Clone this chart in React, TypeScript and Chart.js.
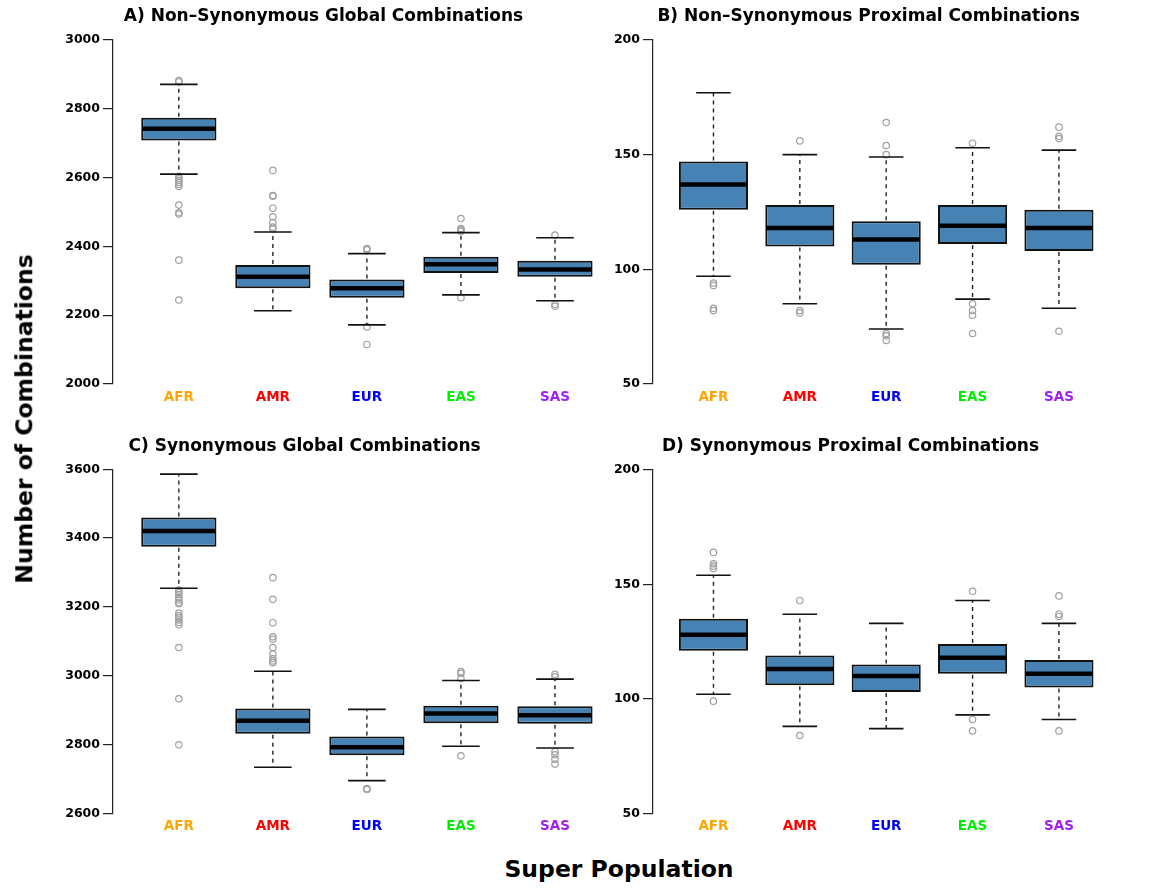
import React, { useEffect, useRef } from "react";
import { Chart, registerables } from "chart.js";

Chart.register(...registerables);

const FONT = '"DejaVu Sans", "Liberation Sans", sans-serif';

const categories = ["AFR", "AMR", "EUR", "EAS", "SAS"];
const categoryColors = ["#FFA500", "#FF0000", "#0000FF", "#00EE00", "#A020F0"];

// A) Non-Synonymous Global Combinations
const aTitle = "A) Non\u2013Synonymous Global Combinations";
const aTicks = [2000, 2200, 2400, 2600, 2800, 3000];
const aLower = [2610, 2213, 2172, 2259, 2242];
const aQ1 = [2708, 2278, 2251, 2323, 2312];
const aMedian = [2742, 2312, 2278, 2348, 2333];
const aQ3 = [2774, 2346, 2304, 2370, 2358];
const aUpper = [2871, 2442, 2379, 2440, 2425];
const aOutliers = [
  [2882, 2878, 2604, 2598, 2592, 2586, 2580, 2574, 2520, 2498, 2494, 2360, 2244],
  [2621, 2548, 2546, 2511, 2486, 2469, 2456, 2451],
  [2394, 2390, 2166, 2115],
  [2481, 2452, 2448, 2444, 2251],
  [2433, 2232, 2226],
];

// B) Non-Synonymous Proximal Combinations
const bTitle = "B) Non\u2013Synonymous Proximal Combinations";
const bTicks = [50, 100, 150, 200];
const bLower = [97, 85, 74, 87, 83];
const bQ1 = [126, 110, 102, 111, 108];
const bMedian = [137, 118, 113, 119, 118];
const bQ3 = [147, 128, 121, 128, 126];
const bUpper = [177, 150, 149, 153, 152];
const bOutliers = [
  [94, 93, 83, 82],
  [156, 82, 81],
  [164, 154, 150, 72, 71, 69],
  [155, 85, 82, 80, 72],
  [162, 158, 157, 73],
];

// C) Synonymous Global Combinations
const cTitle = "C) Synonymous Global Combinations";
const cTicks = [2600, 2800, 3000, 3200, 3400, 3600];
const cLower = [3254, 2734, 2695, 2795, 2790];
const cQ1 = [3375, 2831, 2769, 2862, 2860];
const cMedian = [3421, 2869, 2792, 2890, 2885];
const cQ3 = [3460, 2905, 2823, 2913, 2911];
const cUpper = [3586, 3013, 2902, 2986, 2990];
const cOutliers = [
  [3249, 3242, 3236, 3227, 3220, 3213, 3209, 3182, 3175, 3169, 3162, 3155, 3148, 3082, 2933, 2799],
  [3285, 3222, 3154, 3113, 3106, 3082, 3063, 3050, 3043, 3038],
  [2672, 2669],
  [3012, 3007, 2992, 2767],
  [3004, 2997, 2779, 2770, 2757, 2743],
];

// D) Synonymous Proximal Combinations
const dTitle = "D) Synonymous Proximal Combinations";
const dTicks = [50, 100, 150, 200];
const dLower = [102, 88, 87, 93, 91];
const dQ1 = [121, 106, 103, 111, 105];
const dMedian = [128, 113, 110, 118, 111];
const dQ3 = [135, 119, 115, 124, 117];
const dUpper = [154, 137, 133, 143, 133];
const dOutliers = [
  [164, 159, 158, 157, 99],
  [143, 84],
  [],
  [147, 91, 86],
  [145, 137, 136, 86],
];

type Panel = {
  title: string;
  ticks: number[];
  lower: number[];
  q1: number[];
  median: number[];
  q3: number[];
  upper: number[];
  outliers: number[][];
};

const panels: Panel[] = [
  { title: aTitle, ticks: aTicks, lower: aLower, q1: aQ1, median: aMedian, q3: aQ3, upper: aUpper, outliers: aOutliers },
  { title: bTitle, ticks: bTicks, lower: bLower, q1: bQ1, median: bMedian, q3: bQ3, upper: bUpper, outliers: bOutliers },
  { title: cTitle, ticks: cTicks, lower: cLower, q1: cQ1, median: cMedian, q3: cQ3, upper: cUpper, outliers: cOutliers },
  { title: dTitle, ticks: dTicks, lower: dLower, q1: dQ1, median: dMedian, q3: dQ3, upper: dUpper, outliers: dOutliers },
];

// canvas placement for the 2x2 grid
const layouts = [
  { left: 0, top: 0, width: 640, height: 424, padTop: 40, padRight: 19.2, axisW: 113, xAxisH: 40 },
  { left: 540, top: 0, width: 600, height: 424, padTop: 40, padRight: 20.6, axisW: 113, xAxisH: 40 },
  { left: 0, top: 430, width: 640, height: 424, padTop: 39.3, padRight: 19.2, axisW: 113, xAxisH: 40.7 },
  { left: 540, top: 430, width: 600, height: 424, padTop: 40, padRight: 20.6, axisW: 113, xAxisH: 40.7 },
];

function makeBoxPlugin(p: Panel) {
  return {
    id: "boxExtras",
    afterDatasetsDraw(chart: any) {
      const { ctx, chartArea } = chart;
      const x = chart.scales.x;
      const y = chart.scales.y;
      ctx.save();
      for (let i = 0; i < categories.length; i++) {
        const xc = x.getPixelForValue(i + 1);
        const half = x.getPixelForValue(i + 1.4) - xc;
        const staple = half * 0.5;
        // dashed whiskers
        ctx.setLineDash([4, 4]);
        ctx.lineWidth = 1.4;
        ctx.strokeStyle = "#222";
        ctx.beginPath();
        ctx.moveTo(xc, y.getPixelForValue(p.q3[i]) - 1);
        ctx.lineTo(xc, y.getPixelForValue(p.upper[i]));
        ctx.moveTo(xc, y.getPixelForValue(p.q1[i]) + 1);
        ctx.lineTo(xc, y.getPixelForValue(p.lower[i]));
        ctx.stroke();
        // staples
        ctx.setLineDash([]);
        ctx.lineWidth = 1.6;
        ctx.strokeStyle = "#111";
        ctx.beginPath();
        const yu = y.getPixelForValue(p.upper[i]);
        const yl = y.getPixelForValue(p.lower[i]);
        ctx.moveTo(xc - staple, yu);
        ctx.lineTo(xc + staple, yu);
        ctx.moveTo(xc - staple, yl);
        ctx.lineTo(xc + staple, yl);
        ctx.stroke();
        // median
        ctx.lineWidth = 4.5;
        ctx.strokeStyle = "#000000";
        ctx.beginPath();
        const ym = y.getPixelForValue(p.median[i]);
        ctx.moveTo(xc - half + 1, ym);
        ctx.lineTo(xc + half - 1, ym);
        ctx.stroke();
      }
      // panel title
      ctx.font = `bold 17px ${FONT}`;
      ctx.fillStyle = "#000";
      ctx.textBaseline = "middle";
      ctx.textAlign = "left";
      const tw = ctx.measureText(p.title).width;
      const tx = chartArea.left + 0.1 * (chartArea.right - chartArea.left - tw);
      ctx.fillText(p.title, tx, chartArea.top - 23);
      ctx.restore();
    },
  };
}

function BoxPanel({ index }: { index: number }) {
  const ref = useRef<HTMLCanvasElement | null>(null);
  const p = panels[index];
  const L = layouts[index];
  useEffect(() => {
    if (!ref.current) return;
    const boxData = categories.map((_, i) => ({ x: i + 1, y: [p.q1[i], p.q3[i]] }));
    const outlierData: { x: number; y: number }[] = [];
    p.outliers.forEach((arr, i) => arr.forEach((v) => outlierData.push({ x: i + 1, y: v })));
    const chart = new Chart(ref.current, {
      type: "bar",
      data: {
        datasets: [
          {
            type: "bar",
            data: boxData as any,
            backgroundColor: "#4682B4",
            borderColor: "#111",
            borderWidth: 2,
            borderSkipped: false,
            categoryPercentage: 1,
            barPercentage: 0.8,
          } as any,
          {
            type: "scatter",
            data: outlierData as any,
            pointStyle: "circle",
            pointRadius: 3.2,
            borderColor: "#A0A0A0",
            backgroundColor: "rgba(0,0,0,0)",
            borderWidth: 1.2,
          } as any,
        ],
      },
      options: {
        animation: false,
        responsive: false,
        events: [],
        layout: { padding: { top: L.padTop, right: L.padRight, left: 0, bottom: 0 } },
        plugins: { legend: { display: false }, tooltip: { enabled: false }, title: { display: false } },
        scales: {
          x: {
            type: "linear",
            offset: false,
            min: 0.3,
            max: 5.7,
            afterBuildTicks: (s: any) => {
              s.ticks = categories.map((_, i) => ({ value: i + 1 }));
            },
            afterFit: (s: any) => {
              s.height = L.xAxisH;
            },
            ticks: {
              autoSkip: false,
              maxRotation: 0,
              padding: 5,
              callback: (v: any) => categories[Math.round(Number(v)) - 1] ?? "",
              color: (ctx: any) => categoryColors[ctx.index] ?? "#000",
              font: { family: FONT, size: 13.5, weight: "bold" },
            },
            grid: { display: false, drawTicks: false, offset: false },
            border: { display: false },
          },
          y: {
            type: "linear",
            min: p.ticks[0],
            max: p.ticks[p.ticks.length - 1],
            afterBuildTicks: (s: any) => {
              s.ticks = p.ticks.map((v) => ({ value: v }));
            },
            afterFit: (s: any) => {
              s.width = L.axisW;
            },
            ticks: {
              padding: 3,
              color: "#000",
              font: { family: FONT, size: 12.5, weight: "bold" },
              callback: (v: any) => String(v),
            },
            grid: { drawOnChartArea: false, drawTicks: true, tickLength: 10, color: "#222", lineWidth: 1.2 },
            border: { display: true, color: "#222", width: 1.2 },
          },
        },
      } as any,
      plugins: [makeBoxPlugin(p)],
    });
    return () => chart.destroy();
  }, [index]);
  return (
    <canvas
      ref={ref}
      width={L.width}
      height={L.height}
      style={{ position: "absolute", left: L.left, top: L.top, width: L.width, height: L.height }}
    />
  );
}

export default function App() {
  return (
    <div
      style={{
        position: "absolute",
        left: 0,
        top: 0,
        width: 1149,
        height: 890,
        background: "#fff",
        overflow: "hidden",
        fontFamily: FONT,
      }}
    >
      {panels.map((_, i) => (
        <BoxPanel key={i} index={i} />
      ))}
      <div
        style={{
          position: "absolute",
          left: 25,
          top: 419,
          transform: "translate(-50%, -50%) rotate(-90deg)",
          whiteSpace: "nowrap",
          fontWeight: "bold",
          fontSize: 23.5,
          lineHeight: 1,
          color: "#000",
        }}
      >
        Number of Combinations
      </div>
      <div
        style={{
          position: "absolute",
          left: 619,
          top: 870,
          transform: "translate(-50%, -50%)",
          whiteSpace: "nowrap",
          fontWeight: "bold",
          fontSize: 23.5,
          lineHeight: 1,
          color: "#000",
        }}
      >
        Super Population
      </div>
    </div>
  );
}
